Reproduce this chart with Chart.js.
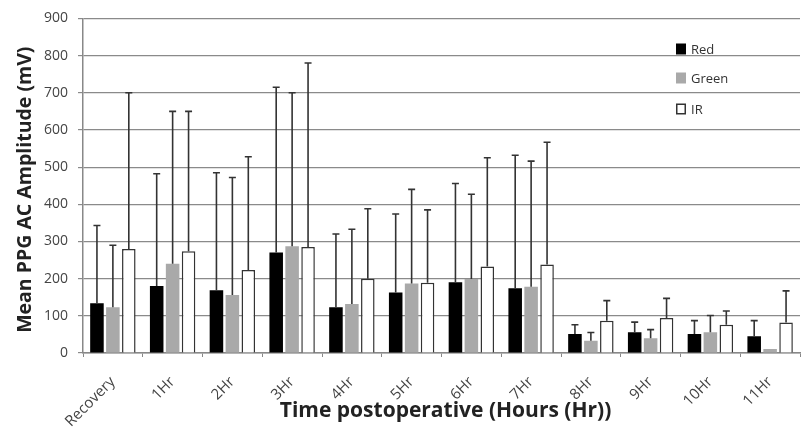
<!DOCTYPE html>
<html>
<head>
<meta charset="utf-8">
<script src="https://cdn.jsdelivr.net/npm/chart.js@4/dist/chart.umd.min.js"></script>
<style>
html,body{margin:0;padding:0;background:#fff;}
#wrap{width:804px;height:428px;position:relative;}
</style>
</head>
<body>
<div id="wrap"><canvas id="c" width="804" height="428"></canvas></div>
<script>
const categories = ["Recovery","1Hr","2Hr","3Hr","4Hr","5Hr","6Hr","7Hr","8Hr","9Hr","10Hr","11Hr"];
const redMean   = [134,180,169,270,123,163,190,174,51,56,51,45];
const greenMean = [123,240,156,287,132,187,199,178,33,40,56,11];
const irMean    = [280,274,223,285,200,189,233,238,87,94,76,82];
const redErrTop   = [343,482,485,715,320,374,456,532,76,83,87,87];
const greenErrTop = [290,650,472,700,333,440,427,516,55,63,101,null];
const irErrTop    = [700,650,528,780,388,385,525,567,141,147,113,167];
const yTicks = [0,100,200,300,400,500,600,700,800,900];
const xTitle = 'Time postoperative (Hours (Hr))';
const yTitle = 'Mean PPG AC Amplitude (mV)';

const FONT = "'Open Sans', 'Liberation Sans', sans-serif";

const errorBars = {
  id: 'errorBars',
  afterDatasetsDraw(chart) {
    const ctx = chart.ctx;
    const y = chart.scales.y;
    chart.data.datasets.forEach((ds, di) => {
      const meta = chart.getDatasetMeta(di);
      ds.errTop.forEach((e, i) => {
        if (e == null) return;
        const bar = meta.data[i];
        const yTop = y.getPixelForValue(e);
        const yBar = y.getPixelForValue(ds.data[i]);
        ctx.save();
        ctx.strokeStyle = '#333';
        ctx.lineWidth = 1.6;
        ctx.beginPath();
        ctx.moveTo(bar.x, yBar);
        ctx.lineTo(bar.x, yTop);
        ctx.moveTo(bar.x - 3.5, yTop);
        ctx.lineTo(bar.x + 3.5, yTop);
        ctx.stroke();
        ctx.restore();
      });
    });
  }
};

const customLegendAndTitles = {
  id: 'customLegendAndTitles',
  afterDraw(chart) {
    const ctx = chart.ctx;
    const x0 = 676;
    const ys = [49, 78, 109];
    chart.data.datasets.forEach((ds, i) => {
      const yy = ys[i];
      ctx.save();
      ctx.fillStyle = ds.backgroundColor;
      ctx.fillRect(x0, yy - 5.5, 10, 11);
      if (ds.label === 'IR') {
        ctx.strokeStyle = '#333';
        ctx.lineWidth = 1.5;
        ctx.strokeRect(x0 + 0.75, yy - 4.75, 8.5, 9.5);
      }
      ctx.fillStyle = '#333';
      ctx.font = "13px " + FONT;
      ctx.textBaseline = 'middle';
      ctx.fillText(ds.label, x0 + 15, yy + 1);
      ctx.restore();
    });
    const a = chart.chartArea;
    ctx.save();
    ctx.fillStyle = '#222';
    ctx.font = "bold 21px " + FONT;
    ctx.textAlign = 'center';
    ctx.textBaseline = 'middle';
    ctx.fillText(xTitle, (a.left + a.right) / 2 + 4, 411);
    ctx.translate(25, (a.top + a.bottom) / 2 + 4);
    ctx.rotate(-Math.PI / 2);
    ctx.font = "bold 19.5px " + FONT;
    ctx.fillText(yTitle, 0, 0);
    ctx.restore();
  }
};

new Chart(document.getElementById('c'), {
  type: 'bar',
  data: {
    labels: categories,
    datasets: [
      {label:'Red', data: redMean, errTop: redErrTop, backgroundColor:'#000000', borderColor:'#000000', borderWidth:0},
      {label:'Green', data: greenMean, errTop: greenErrTop, backgroundColor:'#a9a9a9', borderColor:'#a9a9a9', borderWidth:0},
      {label:'IR', data: irMean, errTop: irErrTop, backgroundColor:'#ffffff', borderColor:'#333333', borderWidth:1.5}
    ]
  },
  options: {
    responsive: false,
    animation: false,
    devicePixelRatio: 1,
    layout: {padding: {left: 0, right: 4, top: 16, bottom: 0}},
    datasets: {bar: {categoryPercentage: 0.8, barPercentage: 0.85}},
    plugins: {legend: {display: false}, tooltip: {enabled: false}},
    scales: {
      x: {
        afterFit(axis) { axis.height = 75; },
        grid: {display: true, drawOnChartArea: false, drawTicks: true, tickLength: 4, color: '#888', offset: true},
        border: {display: true, color: '#888', width: 1.5},
        ticks: {color: '#444', font: {family: FONT, size: 15}, minRotation: 45, maxRotation: 45, padding: 16},
        title: {display: false}
      },
      y: {
        min: 0, max: 900,
        afterFit(axis) { axis.width = 83; },
        afterBuildTicks(axis) { axis.ticks = yTicks.map(v => ({value: v})); },
        grid: {color: '#8a8a8a', lineWidth: 1.2, drawTicks: true, tickLength: 5},
        border: {display: true, color: '#888', width: 1.5},
        ticks: {color: '#444', font: {family: FONT, size: 14}, padding: 10},
        title: {display: false}
      }
    }
  },
  plugins: [errorBars, customLegendAndTitles]
});
</script>
</body>
</html>
